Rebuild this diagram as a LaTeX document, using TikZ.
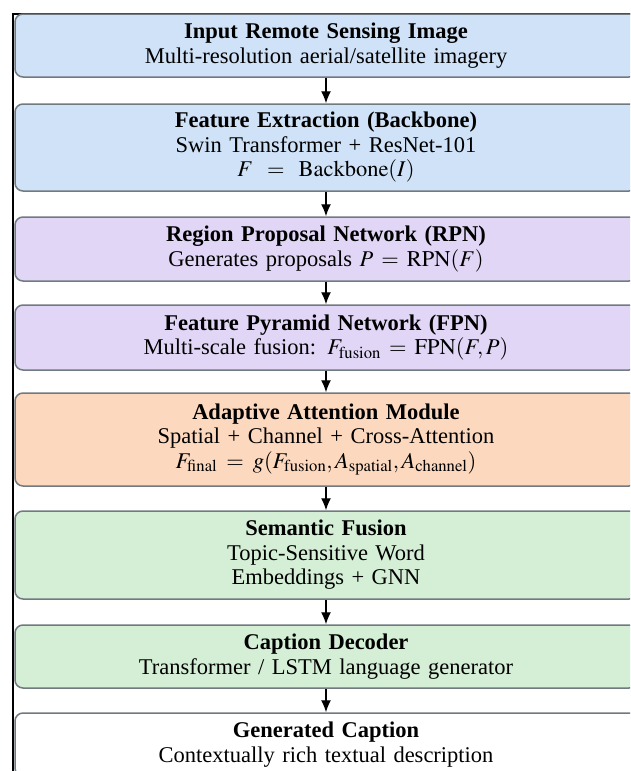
\documentclass[tikz,border=0pt]{standalone}
\usepackage{mathptmx}
\usepackage[no-math]{fontspec}
\setmainfont{Liberation Serif}
\usetikzlibrary{arrows.meta}

\definecolor{inputblue}{RGB}{207,226,247}
\definecolor{rpnpurple}{RGB}{225,214,246}
\definecolor{attnorange}{RGB}{252,217,190}
\definecolor{semgreen}{RGB}{212,239,214}
\definecolor{boxgray}{RGB}{112,122,128}

% equals sign with a fixed gap on both sides
\newcommand{\meq}[1][8pt]{\kern#1{=}\kern#1}

\tikzset{
  stage/.style={draw=boxgray, line width=1.5pt, rounded corners=8pt, fill=#1,
    minimum width=622pt, text width=600pt, align=center,
    font=\fontsize{22.5}{24.5}\selectfont},
  flow/.style={-{Latex[length=12pt,width=10pt]}, line width=1.3pt, black}
}

\begin{document}
\begin{tikzpicture}[x=1pt,y=1pt]
\useasboundingbox (0,0) rectangle (630,-771);
\clip (0,0) rectangle (630,-771);
\draw[line width=2pt] (12.5,-820) -- (12.5,-13.5) -- (660,-13.5);

\node[stage=inputblue, minimum height=63pt] (input) at (326,-45.5)
  {\textbf{Input Remote Sensing Image}\\Multi-resolution aerial/satellite imagery};
\node[stage=inputblue, minimum height=87pt] (backbone) at (326,-147.5)
  {\textbf{Feature Extraction (Backbone)}\\Swin Transformer + ResNet-101\\$F\meq[14pt]\mathrm{Backbone}(I)$};
\node[stage=rpnpurple, minimum height=64pt] (rpn) at (326,-249)
  {\textbf{Region Proposal Network (RPN)}\\Generates proposals $P\meq\mathrm{RPN}(F)$};
\node[stage=rpnpurple, minimum height=65pt] (fpn) at (326,-337.5)
  {\textbf{Feature Pyramid Network (FPN)}\\Multi-scale fusion: $F_{\mathrm{fusion}}\meq\mathrm{FPN}(F,P)$};
\node[stage=attnorange, minimum height=93pt] (attn) at (326,-439.5)
  {\textbf{Adaptive Attention Module}\\Spatial + Channel + Cross-Attention\\$F_{\mathrm{final}}\meq[9pt]g(F_{\mathrm{fusion}},A_{\mathrm{spatial}},A_{\mathrm{channel}})$};
\node[stage=semgreen, minimum height=88pt] (semantic) at (326,-555)
  {\textbf{Semantic Fusion}\\Topic-Sensitive Word\\Embeddings + GNN};
\node[stage=semgreen, minimum height=63pt] (decoder) at (326,-656.5)
  {\textbf{Caption Decoder}\\Transformer / LSTM language generator};
\node[stage=white, minimum height=63pt] (caption) at (326,-744.5)
  {\textbf{Generated Caption}\\Contextually rich textual description};

\draw[flow] (input) -- (backbone);
\draw[flow] (backbone) -- (rpn);
\draw[flow] (rpn) -- (fpn);
\draw[flow] (fpn) -- (attn);
\draw[flow] (attn) -- (semantic);
\draw[flow] (semantic) -- (decoder);
\draw[flow] (decoder) -- (caption);
\end{tikzpicture}
\end{document}
